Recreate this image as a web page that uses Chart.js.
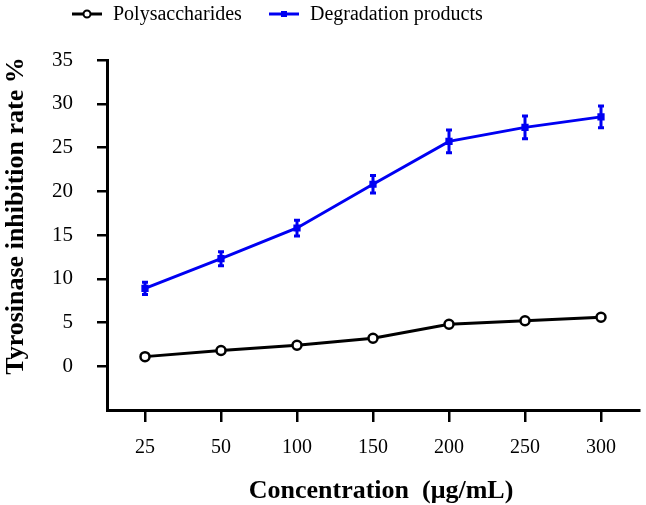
<!DOCTYPE html>
<html><head><meta charset="utf-8">
<script src="https://cdn.jsdelivr.net/npm/chart.js@4/dist/chart.umd.min.js"></script>
<style>html,body{margin:0;padding:0;background:#fff}#wrap{width:646px;height:505px}</style>
</head><body><div id="wrap"><canvas id="c" width="646" height="505"></canvas></div>
<script>
const categories = ["25","50","100","150","200","250","300"];
const polysaccharides = [1.1, 1.8, 2.4, 3.2, 4.8, 5.2, 5.6];
const degradation = [8.9, 12.3, 15.8, 20.8, 25.7, 27.3, 28.5];
const degradationErr = [0.7, 0.8, 0.9, 1.0, 1.3, 1.3, 1.25];
const yTicks = [0, 5, 10, 15, 20, 25, 30, 35];
const xTitle = 'Concentration  (μg/mL)';
const yTitle = 'Tyrosinase inhibition rate %';

const FONT = "'Liberation Serif', 'Times New Roman', serif";

const errorBars = {
  id: 'errorBars',
  afterDatasetsDraw(chart) {
    const ctx = chart.ctx, y = chart.scales.y;
    chart.data.datasets.forEach((ds, i) => {
      if (!ds.errors) return;
      const meta = chart.getDatasetMeta(i);
      ctx.save();
      ctx.strokeStyle = ds.borderColor; ctx.lineWidth = 3;
      meta.data.forEach((pt, j) => {
        const v = ds.data[j], e = ds.errors[j];
        const y1 = y.getPixelForValue(v - e), y2 = y.getPixelForValue(v + e);
        ctx.beginPath();
        ctx.moveTo(pt.x, y1); ctx.lineTo(pt.x, y2);
        ctx.moveTo(pt.x - 3, y1); ctx.lineTo(pt.x + 3, y1);
        ctx.moveTo(pt.x - 3, y2); ctx.lineTo(pt.x + 3, y2);
        ctx.stroke();
      });
      ctx.restore();
    });
  }
};

const customLegend = {
  id: 'customLegend',
  afterDraw(chart) {
    const ctx = chart.ctx;
    const items = [{x: 72, ds: chart.data.datasets[0]}, {x: 269, ds: chart.data.datasets[1]}];
    const yy = 14;
    ctx.save();
    items.forEach(it => {
      const ds = it.ds;
      ctx.strokeStyle = ds.borderColor; ctx.lineWidth = 3;
      ctx.beginPath(); ctx.moveTo(it.x, yy); ctx.lineTo(it.x + 30, yy); ctx.stroke();
      if (ds.pointStyle === 'circle') {
        ctx.fillStyle = '#fff'; ctx.lineWidth = 2;
        ctx.beginPath(); ctx.arc(it.x + 15, yy, 3.5, 0, Math.PI * 2); ctx.fill(); ctx.stroke();
      } else {
        ctx.fillStyle = ds.borderColor;
        ctx.fillRect(it.x + 12, yy - 3, 6, 6);
      }
      ctx.fillStyle = '#000';
      ctx.font = "20px " + FONT;
      ctx.textBaseline = 'middle';
      ctx.fillText(ds.label, it.x + 41, yy + 1);
    });
    ctx.restore();
  }
};

const axisTitles = {
  id: 'axisTitles',
  afterDraw(chart) {
    const ctx = chart.ctx;
    ctx.save();
    ctx.fillStyle = '#000';
    ctx.font = "bold 26px " + FONT;
    ctx.textAlign = 'center'; ctx.textBaseline = 'middle';
    ctx.fillText(xTitle, 381, 491);
    ctx.translate(16, 216);
    ctx.rotate(-Math.PI / 2);
    ctx.fillText(yTitle, 0, 0);
    ctx.restore();
  }
};

new Chart(document.getElementById('c'), {
  type: 'line',
  data: {
    labels: categories,
    datasets: [
      { label: 'Polysaccharides', data: polysaccharides, borderColor: '#000', backgroundColor: '#fff',
        borderWidth: 3, pointStyle: 'circle', pointRadius: 4.5, pointBorderWidth: 2.5,
        pointBackgroundColor: '#fff', pointBorderColor: '#000', tension: 0 },
      { label: 'Degradation products', data: degradation, errors: degradationErr, borderColor: '#0000f2',
        backgroundColor: '#0000f2', borderWidth: 3, pointStyle: 'rect', pointRadius: 3,
        pointBackgroundColor: '#0000f2', pointBorderColor: '#0000f2', tension: 0 }
    ]
  },
  options: {
    responsive: false, animation: false,
    layout: { padding: { top: 60, right: 2, left: 0, bottom: 0 } },
    plugins: { legend: { display: false }, tooltip: { enabled: false } },
    scales: {
      x: {
        offset: true,
        border: { display: true, color: '#000', width: 3 },
        grid: { display: true, drawOnChartArea: false, drawTicks: true, tickLength: 12, color: '#000', lineWidth: 2.5, offset: false },
        ticks: { color: '#000', font: { family: FONT, size: 20 }, padding: 14 },
        afterFit(s) { s.height = 95; }
      },
      y: {
        min: -5, max: 35,
        border: { display: true, color: '#000', width: 3 },
        grid: { display: true, drawOnChartArea: false, drawTicks: true, tickLength: 10, color: '#000', lineWidth: 2.5 },
        afterBuildTicks(s) { s.ticks = yTicks.map(v => ({ value: v })); },
        ticks: { color: '#000', font: { family: FONT, size: 21 }, padding: 24 },
        afterFit(s) { s.width = 107; }
      }
    }
  },
  plugins: [errorBars, customLegend, axisTitles]
});
</script></body></html>
